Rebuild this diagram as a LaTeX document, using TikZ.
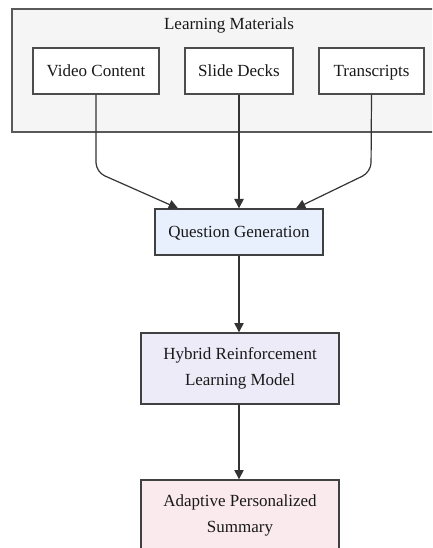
\documentclass[tikz,border=0pt]{standalone}
\usepackage{fontspec}
\setmainfont{Liberation Serif}
\usepackage{xcolor}
\usetikzlibrary{arrows.meta, positioning}
\definecolor{groupfill}{HTML}{F5F5F5}
\definecolor{edgegray}{HTML}{333333}
\definecolor{qgfill}{HTML}{E8F0FD}
\definecolor{hrlfill}{HTML}{EEEBF9}
\definecolor{sumfill}{HTML}{FBEAED}

\begin{document}
\begin{tikzpicture}[x=0.75pt, y=-0.75pt, >={Triangle[length=7pt, width=7pt]},
    every node/.style={font=\fontsize{12.75}{19.5}\selectfont, text=black!90},
    srcbox/.style={rectangle, draw=black!70, fill=white, line width=0.8pt,
        minimum height=34.5pt, inner sep=0pt, text height=10pt, text depth=2pt},
    stagebox/.style={rectangle, draw=black!75, line width=1pt,
        minimum width=148.5pt, minimum height=53.25pt, align=center, inner sep=0pt},
    flow/.style={->, draw=edgegray, line width=0.9pt, rounded corners=7pt}]
    \useasboundingbox (0,0) rectangle (432,548);
    \clip (0,0) rectangle (432,548);
    % group of learning materials
    \draw[fill=groupfill, draw=black!65, line width=0.8pt] (12,9) rectangle (460,132);
    \node (lm) at (229,25) {Learning Materials};
    \node[srcbox, minimum width=94.5pt] (vid) at (96,71) {Video Content};
    \node[srcbox, minimum width=81pt] (slides) at (239,71) {Slide Decks};
    \node[srcbox, minimum width=78.75pt] (trans) at (371.5,71) {Transcripts};
    % pipeline
    \node[stagebox, fill=qgfill, minimum width=126pt, minimum height=34.5pt,
        text height=10pt, text depth=2pt] (qgen) at (239,232) {Question Generation};
    \node[stagebox, fill=hrlfill] (hrl) at (240,368.5) {Hybrid Reinforcement\\Learning Model};
    \node[stagebox, fill=sumfill] (summ) at (240,515.5) {Adaptive Personalized\\Summary};
    \coordinate (vbend) at (96,172);
    \coordinate (tbend) at (371,172);
    \draw[flow] (vid.south) -- (vbend) -- (qgen.north west -| 178,0);
    \draw[flow] (slides.south) -- (qgen.north);
    \draw[flow] (trans.south) -- (tbend) -- (qgen.north west -| 296,0);
    \draw[flow] (qgen.south) -- (qgen.south |- hrl.north);
    \draw[flow] (qgen.south |- hrl.south) -- (qgen.south |- summ.north);
\end{tikzpicture}
\end{document}
